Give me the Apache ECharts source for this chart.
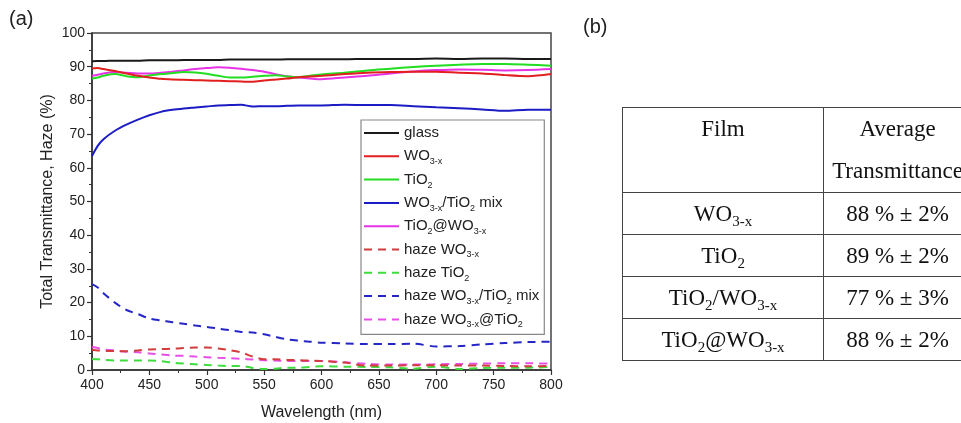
<!DOCTYPE html>
<html>
<head>
<meta charset="utf-8">
<script src="https://cdn.jsdelivr.net/npm/echarts@6/dist/echarts.min.js"></script>
<style>
  html, body { margin: 0; padding: 0; background: #fff; overflow: hidden; width: 961px; height: 423px; }
  #chart { position: absolute; left: 0; top: 0; width: 961px; height: 423px; }
  .tbl {
    position: absolute; left: 622px; top: 107px;
    width: 349px; table-layout: fixed;
    border-collapse: collapse;
    font-family: "Liberation Serif", "Times New Roman", serif;
    font-size: 23px; color: #111;
  }
  .tbl td { border: 1.5px solid #444; text-align: center; padding: 0; height: 41px; white-space: nowrap; }
  .tbl td.c1 { width: 200px; }
  .tbl td.c2 { width: 147px; }
  .tbl td.hd { height: 83px; vertical-align: top; line-height: 42px; }
  .tbl sub { font-size: 15px; vertical-align: -5px; line-height: 0; }
</style>
</head>
<body>
<div id="chart"></div>
<table class="tbl" id="tbl"></table>
<script>
// wavelength grid (nm)
const wavelength = [400, 405, 410, 420, 430, 440, 450, 460, 470, 480, 490, 500, 510, 520, 530, 540,
  550, 560, 570, 580, 590, 600, 620, 640, 660, 680, 700, 720, 740, 760, 780, 800]

// total transmittance (%)
const glass = [91.6, 91.7, 91.7, 91.8, 91.8, 91.8, 91.9, 91.9, 91.9, 92.0, 92.0, 92.0, 92.0, 92.1, 92.1, 92.1,
  92.1, 92.1, 92.2, 92.2, 92.2, 92.2, 92.2, 92.3, 92.3, 92.3, 92.4, 92.3, 92.4, 92.4, 92.3, 92.3]
const wo3 = [89.5, 89.6, 89.3, 88.7, 88.0, 87.3, 86.8, 86.4, 86.2, 86.1, 86.0, 85.9, 85.8, 85.7, 85.6, 85.5,
  85.9, 86.2, 86.5, 86.9, 87.1, 87.3, 87.8, 88.2, 88.4, 88.5, 88.5, 88.2, 88.0, 87.5, 87.2, 87.8]
const tio2 = [86.5, 86.8, 87.3, 87.8, 87.2, 86.9, 87.4, 87.8, 88.1, 88.4, 88.3, 87.9, 87.3, 86.8, 86.8, 87.0,
  87.3, 87.5, 87.1, 86.9, 87.3, 87.7, 88.2, 88.9, 89.4, 89.9, 90.3, 90.6, 90.8, 90.8, 90.6, 90.3]
const mix = [63.5, 66.5, 68.5, 71.0, 72.8, 74.3, 75.6, 76.6, 77.2, 77.6, 77.9, 78.2, 78.5, 78.6, 78.7, 78.2,
  78.3, 78.3, 78.4, 78.5, 78.5, 78.5, 78.7, 78.6, 78.6, 78.3, 78.0, 77.7, 77.3, 76.9, 77.2, 77.2]
const coreShell = [87.3, 87.6, 88.0, 88.4, 88.2, 88.0, 88.0, 88.2, 88.5, 88.9, 89.3, 89.6, 89.8, 89.7, 89.4, 89.0,
  88.5, 87.8, 87.2, 86.8, 86.5, 86.3, 86.8, 87.3, 88.0, 88.6, 89.0, 89.2, 89.1, 88.9, 89.0, 89.3]

// haze (%)
const hazeWo3 = [6.0, 5.8, 5.7, 5.6, 5.6, 5.8, 6.1, 6.2, 6.3, 6.5, 6.7, 6.7, 6.4, 5.9, 5.2, 4.0,
  3.2, 3.2, 3.0, 2.9, 2.8, 2.7, 2.2, 1.3, 1.3, 1.4, 1.4, 1.3, 1.3, 1.2, 1.1, 1.2]
const hazeTio2 = [3.3, 3.2, 3.0, 2.8, 2.8, 2.8, 2.8, 2.6, 2.2, 1.9, 1.7, 1.5, 1.3, 1.2, 1.2, 0.6,
  0.3, 0.4, 0.7, 0.7, 0.9, 1.1, 1.0, 0.9, 0.8, 0.4, 1.0, 0.3, 0.6, 0.7, 0.7, 0.9]
const hazeMix = [25.5, 24.5, 22.8, 20.0, 17.8, 16.6, 15.3, 14.7, 14.2, 13.7, 13.2, 12.8, 12.3, 11.8, 11.3, 11.1,
  10.6, 9.8, 9.1, 8.7, 8.4, 8.1, 7.9, 7.7, 7.7, 7.8, 7.0, 7.1, 7.6, 8.0, 8.3, 8.4]
const hazeCoreShell = [6.8, 6.5, 6.1, 5.8, 5.4, 5.3, 4.9, 4.6, 4.3, 4.2, 4.0, 3.8, 3.6, 3.5, 3.3, 3.1,
  2.9, 2.8, 2.7, 2.7, 2.7, 2.7, 2.3, 1.8, 1.6, 1.6, 1.7, 1.8, 1.9, 2.0, 2.0, 1.9]

const seriesNames = ['glass', 'WO3-x', 'TiO2', 'WO3-x/TiO2 mix', 'TiO2@WO3-x',
  'haze WO3-x', 'haze TiO2', 'haze WO3-x/TiO2 mix', 'haze WO3-x@TiO2']
// legend labels as rich text with subscripts
const legendLabels = {
  'glass': 'glass',
  'WO3-x': 'WO{s|3-x}',
  'TiO2': 'TiO{s|2}',
  'WO3-x/TiO2 mix': 'WO{s|3-x}/TiO{s|2} mix',
  'TiO2@WO3-x': 'TiO{s|2}@WO{s|3-x}',
  'haze WO3-x': 'haze WO{s|3-x}',
  'haze TiO2': 'haze TiO{s|2}',
  'haze WO3-x/TiO2 mix': 'haze WO{s|3-x}/TiO{s|2} mix',
  'haze WO3-x@TiO2': 'haze WO{s|3-x}@TiO{s|2}'
}
const seriesValues = [glass, wo3, tio2, mix, coreShell, hazeWo3, hazeTio2, hazeMix, hazeCoreShell]
const seriesColors = ['#1a1a1a', '#e21f1f', '#22dd22', '#1c1cc4', '#e633e6',
  '#d23c3c', '#3ddd3d', '#2626c8', '#e84ee8']
const dashed = [false, false, false, false, false, true, true, true, true]

// table (b)
const tableHeader = ['Film', 'Average<br>Transmittance']
const tableFilms = ['WO<sub>3-x</sub>', 'TiO<sub>2</sub>', 'TiO<sub>2</sub>/WO<sub>3-x</sub>', 'TiO<sub>2</sub>@WO<sub>3-x</sub>']
const tableValues = ['88 % ± 2%', '89 % ± 2%', '77 % ± 3%', '88 % ± 2%']

const tbl = document.getElementById('tbl')
let html = '<tr><td class="c1 hd">' + tableHeader[0] + '</td><td class="c2 hd">' + tableHeader[1] + '</td></tr>'
tableFilms.forEach((f, i) => {
  html += '<tr><td class="c1">' + f + '</td><td class="c2">' + tableValues[i] + '</td></tr>'
})
tbl.innerHTML = html

const font = '"Liberation Sans", Arial, sans-serif'
const chart = echarts.init(document.getElementById('chart'), null, { renderer: 'canvas' })

const option = {
  animation: false,
  textStyle: { fontFamily: font },
  graphic: [
    { type: 'text', left: 9, top: 9, style: { text: '(a)', font: '20px ' + font, fill: '#222' } },
    { type: 'text', left: 583, top: 17, style: { text: '(b)', font: '20px ' + font, fill: '#222' } }
  ],
  grid: {
    left: 92, right: 410, top: 33, bottom: 53,
    outerBoundsMode: 'none',
    show: true, borderColor: '#444', borderWidth: 1.5, backgroundColor: 'transparent'
  },
  legend: {
    orient: 'vertical',
    left: 361, top: 120,
    padding: [3, 5, 5, 2],
    backgroundColor: '#fff',
    borderColor: '#888',
    borderWidth: 1.2,
    borderRadius: 0,
    itemWidth: 35,
    itemHeight: 12,
    itemGap: 3.3,
    data: seriesNames,
    itemStyle: { opacity: 0 },
    formatter: name => legendLabels[name],
    textStyle: {
      fontSize: 15, color: '#222', lineHeight: 20, fontFamily: font,
      rich: {
        s: { fontSize: 9, lineHeight: 8, padding: [11, 0, 0, 0], verticalAlign: 'bottom', color: '#222', fontFamily: font }
      }
    }
  },
  xAxis: {
    type: 'value', min: 400, max: 800, interval: 50,
    name: 'Wavelength (nm)', nameLocation: 'middle', nameGap: 35,
    nameTextStyle: { fontSize: 16, color: '#222' },
    axisLine: { show: true, lineStyle: { color: '#333', width: 1.5 } },
    axisTick: { show: true, length: 5, lineStyle: { color: '#333', width: 1.2 } },
    minorTick: { show: true, splitNumber: 2, length: 3, lineStyle: { color: '#333', width: 1 } },
    axisLabel: { fontSize: 14, color: '#222', margin: 8 },
    splitLine: { show: false }
  },
  yAxis: {
    type: 'value', min: 0, max: 100, interval: 10,
    name: 'Total Transmittance, Haze (%)', nameLocation: 'middle', nameGap: 36,
    nameTextStyle: { fontSize: 16, color: '#222' },
    axisLine: { show: true, lineStyle: { color: '#333', width: 1.5 } },
    axisTick: { show: true, length: 5, lineStyle: { color: '#333', width: 1.2 } },
    minorTick: { show: true, splitNumber: 2, length: 3, lineStyle: { color: '#333', width: 1 } },
    axisLabel: { fontSize: 14, color: '#222', margin: 7 },
    splitLine: { show: false }
  },
  series: seriesNames.map((name, i) => ({
    name: name,
    type: 'line',
    data: wavelength.map((w, j) => [w, seriesValues[i][j]]),
    showSymbol: false,
    symbol: 'none',
    smooth: 0.3,
    color: seriesColors[i],
    lineStyle: {
      color: seriesColors[i],
      width: 2,
      type: dashed[i] ? [8, 6] : 'solid'
    },
    z: 10 - i
  }))
}

chart.setOption(option)
</script>
</body>
</html>
